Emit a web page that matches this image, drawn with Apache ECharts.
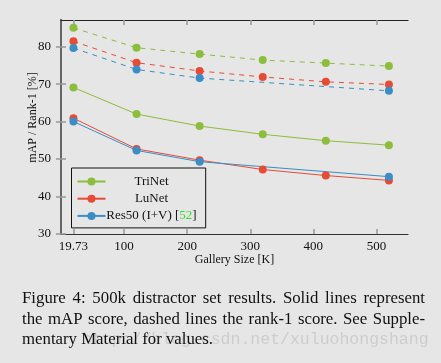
<!DOCTYPE html>
<html>
<head>
<meta charset="utf-8">
<script src="https://cdn.jsdelivr.net/npm/echarts@6/dist/echarts.min.js"></script>
<style>
html,body{margin:0;padding:0;background:#e6e6e6;}
#c{width:441px;height:363px;}
</style>
</head>
<body>
<div id="c"></div>
<script>
// ---- data ----
const gallerySizes = [19.73, 119.73, 219.73, 319.73, 419.73, 519.73];
const res50Sizes = [19.73, 119.73, 219.73, 519.73];
const xTickValues = [19.73, 100, 200, 300, 400, 500];
const yTickValues = [30, 40, 50, 60, 70, 80];

const trinetMAP   = [69.1, 62.0, 58.8, 56.6, 54.9, 53.7];
const trinetRank1 = [85.0, 79.7, 78.0, 76.4, 75.6, 74.8];
const lunetMAP    = [60.9, 52.7, 49.7, 47.2, 45.6, 44.3];
const lunetRank1  = [81.4, 75.7, 73.5, 71.9, 70.6, 69.9];
const res50MAP    = [60.0, 52.3, 49.3, 45.3];
const res50Rank1  = [79.6, 73.9, 71.6, 68.2];

const seriesNames = ['TriNet', 'LuNet', 'Res50 (I+V) [52]'];
const colors = ['#8cbd3c', '#e64b35', '#3a8dc5'];

const captionLines = [
  'Figure 4:  500k distractor set results.  Solid lines represent',
  'the mAP score, dashed lines the rank-1 score.  See Supple-',
  'mentary Material for values.'
];
const watermark = 'http://blog.csdn.net/xuluohongshang';

function pairs(xs, ys){ return xs.map((x,i)=>[x, ys[i]]); }

const serifFont = '"Liberation Serif", "DejaVu Serif", serif';

function lineSeries(name, xs, ys, color, dashed){
  return {
    type: 'line',
    name: name,
    data: pairs(xs, ys),
    symbol: 'circle',
    symbolSize: 8,
    showSymbol: true,
    lineStyle: {color: color, width: 1, type: dashed ? [5,5] : 'solid'},
    itemStyle: {color: color},
    emphasis: {disabled: true},
    animation: false,
    z: dashed ? 2 : 3
  };
}

// caption: justified lines built from words
const capFont = '16.8px "Liberation Serif", serif';
const measureCtx = document.createElement('canvas').getContext('2d');
measureCtx.font = capFont;
function captionGraphics(){
  const out = [];
  const left = 22, right = 425;
  const tops = [290, 311, 331];
  captionLines.forEach((line, li) => {
    if (li === captionLines.length - 1) {
      out.push({type: 'text', x: left, y: tops[li], z: 10, silent: true,
        style: {text: line, fill: '#111', font: capFont, textVerticalAlign: 'top'}});
      return;
    }
    const words = line.split(/\s+/);
    const widths = words.map(w => measureCtx.measureText(w).width);
    const total = widths.reduce((a,b)=>a+b, 0);
    const gap = (right - left - total) / (words.length - 1);
    let x = left;
    words.forEach((w, i) => {
      out.push({type: 'text', x: x, y: tops[li], z: 10, silent: true,
        style: {text: w, fill: '#111', font: capFont, textVerticalAlign: 'top'}});
      x += widths[i] + gap;
    });
  });
  return out;
}

const chart = echarts.init(document.getElementById('c'), null, {renderer: 'canvas'});

const axisCommonX = {type: 'value', min: 0, max: 550, splitLine: {show: false}};
const axisCommonY = {type: 'value', min: 30, max: 87.1, splitLine: {show: false}};

chart.setOption({
  backgroundColor: '#e6e6e6',
  animation: false,
  grid: {left: 61, right: 33, top: 20, bottom: 129, containLabel: false},
  xAxis: [
    Object.assign({}, axisCommonX, {
      position: 'bottom',
      name: 'Gallery Size [K]',
      nameLocation: 'middle',
      nameGap: 20,
      nameMoveOverlap: false,
      nameTextStyle: {fontFamily: serifFont, fontSize: 12, color: '#111'},
      axisLine: {show: true, lineStyle: {color: '#333', width: 1.2}},
      axisTick: {show: true, inside: true, length: 5, lineStyle: {color: '#999', width: 1.5}, customValues: xTickValues},
      axisLabel: {show: true, fontFamily: serifFont, fontSize: 13, color: '#111', margin: 6,
        customValues: xTickValues, formatter: v => (v === 19.73 ? '19.73' : String(v))}
    }),
    Object.assign({}, axisCommonX, {
      position: 'top',
      axisLine: {show: true, lineStyle: {color: '#222', width: 1.2}},
      axisTick: {show: true, inside: true, length: 5, lineStyle: {color: '#999', width: 1.5}, customValues: xTickValues},
      axisLabel: {show: false}
    })
  ],
  yAxis: [
    Object.assign({}, axisCommonY, {
      position: 'left',
      name: 'mAP / Rank-1 [%]',
      nameLocation: 'middle',
      nameGap: 22,
      nameMoveOverlap: false,
      nameRotate: 90,
      nameTextStyle: {fontFamily: serifFont, fontSize: 12, color: '#111', padding: [0, 0, 0, 19]},
      axisLine: {show: true, lineStyle: {color: '#555', width: 2}},
      axisTick: {show: true, inside: true, length: 5, lineStyle: {color: '#999', width: 1.5}, customValues: yTickValues},
      axisLabel: {show: true, fontFamily: serifFont, fontSize: 13, color: '#111', margin: 10, customValues: yTickValues}
    }),
    Object.assign({}, axisCommonY, {
      position: 'right',
      axisLine: {show: true, lineStyle: {color: '#666', width: 2}},
      axisTick: {show: true, inside: true, length: 5, lineStyle: {color: '#999', width: 1.5}, customValues: yTickValues},
      axisLabel: {show: false}
    })
  ],
  legend: {
    data: seriesNames,
    orient: 'vertical',
    left: 71.5,
    top: 168,
    padding: [7, 9, 5.5, 5],
    itemWidth: 28,
    itemHeight: 10,
    itemGap: 4.2,
    borderColor: '#111',
    borderWidth: 1,
    backgroundColor: 'transparent',
    selectedMode: false,
    formatter: function(name){
      if (name === 'Res50 (I+V) [52]') return '{t|Res50 (I+V) [}{g|52}{t|]}';
      return '{t|' + name + '}';
    },
    textStyle: {
      fontFamily: serifFont, fontSize: 13, color: '#111', width: 82,
      rich: {
        t: {fontFamily: serifFont, fontSize: 13, color: '#111', align: 'center'},
        g: {fontFamily: serifFont, fontSize: 13, color: '#33dd33', align: 'center'}
      }
    }
  },
  series: [
    lineSeries(seriesNames[0], gallerySizes, trinetMAP, colors[0], false),
    lineSeries(seriesNames[0] + ' rank-1', gallerySizes, trinetRank1, colors[0], true),
    lineSeries(seriesNames[1], gallerySizes, lunetMAP, colors[1], false),
    lineSeries(seriesNames[1] + ' rank-1', gallerySizes, lunetRank1, colors[1], true),
    lineSeries(seriesNames[2], res50Sizes, res50MAP, colors[2], false),
    lineSeries(seriesNames[2] + ' rank-1', res50Sizes, res50Rank1, colors[2], true)
  ],
  graphic: [
    {type: 'text', x: 82, y: 331, z: 1, silent: true,
      style: {text: watermark, fill: '#cdcdcd', textVerticalAlign: 'top',
        font: '16.5px "Liberation Mono", "DejaVu Sans Mono", monospace'}}
  ].concat(captionGraphics())
});
</script>
</body>
</html>
